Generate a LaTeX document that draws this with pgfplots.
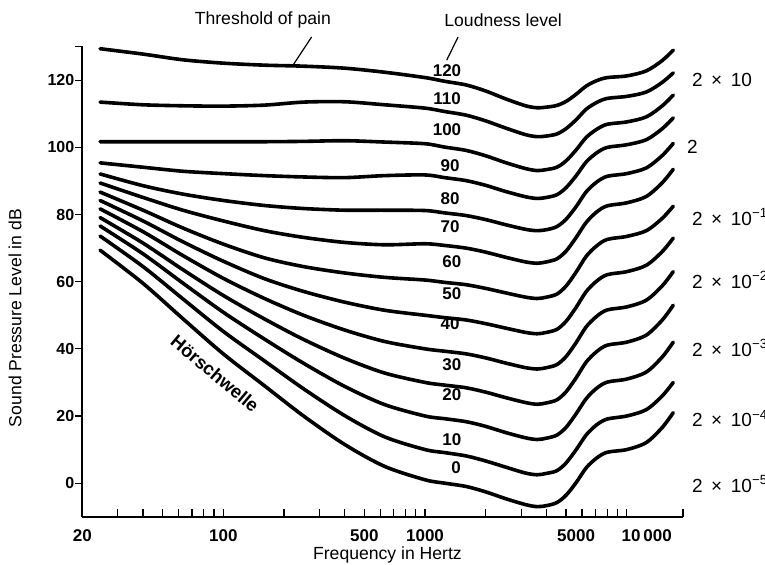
\documentclass[border=0pt]{standalone}
\usepackage{fontspec}
\setmainfont{Liberation Sans}
\usepackage{pgfplots}
\usepackage{pgfplotstable}
\pgfplotsset{compat=1.18}

% equal loudness contours, sound pressure level in dB per loudness level (phon)
\pgfplotstableread{
f      p120   p110   p100   p90    p80    p70    p60    p50    p40    p30    p20    p10    p0
24.5   129.4  113.5  101.7  95.4   92.1   89.4   86.7   84.2   81.7   79.1   76.6   73.6   69.4
40     127.8  112.7  101.7  94.1   88.6   85.1   81.3   78.1   74.9   71.5   68.3   64.5   59.5
63     126.1  112.4  101.7  92.9   86.1   81.3   76.0   71.9   67.8   63.6   59.6   54.9   49.0
100    125.1  112.3  101.7  92.2   84.2   78.1   71.2   66.1   61.0   55.9   50.9   45.2   38.5
160    124.5  112.6  101.7  91.6   82.7   75.2   67.1   60.9   55.0   48.9   42.9   36.4   29.0
250    124.2  113.5  101.8  91.2   81.8   73.2   64.5   57.1   50.0   42.8   35.7   28.1   20.0
400    123.6  113.6  102.0  91.0   81.3   71.7   62.6   53.9   45.6   37.2   28.8   20.1   11.5
630    122.4  112.7  101.6  91.6   81.3   71.0   61.3   51.5   42.2   32.8   23.4   13.8   5.0
1000   120.8  111.7  101.1  91.8   81.2   71.3   60.5   50.0   40.0   30.0   20.0   10.0   1.0
1250   119.7  110.7  100.1  91.0   80.5   70.8   59.8   49.3   39.3   29.2   19.2   9.1    0.0
1600   118.6  109.6  99.1   90.1   79.7   70.0   59.1   48.6   38.5   28.4   18.3   8.1    -1.0
2000   116.8  107.9  97.5   88.7   78.5   68.8   58.0   47.5   37.3   27.1   16.9   6.6    -2.6
2500   114.5  105.8  95.5   86.9   77.0   67.3   56.7   46.2   35.8   25.5   15.1   4.8    -4.6
3150   112.4  103.8  93.7   85.3   75.6   65.9   55.4   44.9   34.4   24.0   13.5   3.0    -6.4
3600   111.8  103.2  93.1   84.8   75.2   65.5   55.0   44.5   34.0   23.5   13.0   2.5    -7.0
4000   112.0  103.4  93.4   85.1   75.5   65.9   55.4   44.9   34.4   23.9   13.4   2.9    -6.7
4500   112.5  104.0  94.1   85.9   76.4   66.8   56.3   45.8   35.3   24.8   14.3   3.7    -5.8
5000   113.7  105.6  96.0   88.0   78.6   69.1   58.7   48.2   37.7   27.2   16.6   6.0    -3.6
5600   115.8  108.2  99.2   91.5   82.3   73.1   62.8   52.3   41.8   31.3   20.6   9.9    0.1
6300   118.3  111.4  103.0  95.7   86.8   77.7   67.6   57.1   46.6   36.1   25.2   14.4   4.6
7100   119.9  113.4  105.4  98.4   89.7   80.8   70.7   60.2   49.7   39.2   28.3   17.4   7.5
8000   120.8  114.6  106.9  100.0  91.4   82.6   72.6   62.1   51.6   41.1   30.1   19.1   9.2
10000  121.3  115.2  107.6  100.8  92.2   83.5   73.5   63.0   52.5   42.0   31.0   20.0   10.0
12500  122.8  116.5  109.1  102.3  93.9   85.4   75.2   64.9   54.5   44.1   33.1   21.9   12.1
15000  125.9  119.4  112.4  105.6  97.6   89.5   78.9   69.0   58.8   48.6   37.6   26.0   16.6
17000  129.0  122.2  115.6  108.8  101.2  93.5   82.5   73.0   63.0   53.0   42.0   30.0   21.0
}\contours

\tikzset{
  curve/.style={black, line width=1.8pt, line cap=round, smooth, no markers},
  lvl/.style={font=\fontsize{8.5}{10}\selectfont\bfseries, inner sep=0pt},
  rlab/.style={font=\fontsize{9.5}{11}\selectfont, inner sep=0pt, anchor=west},
  note/.style={font=\fontsize{8.8}{10}\selectfont, inner sep=0pt},
}
\newcommand{\pa}[1]{2\hspace{0.45em}×\hspace{0.45em}10\textsuperscript{#1}}

\begin{document}
\begin{tikzpicture}
\begin{axis}[
  scale only axis,
  width=300.35pt, height=235pt,
  xmode=log,
  xmin=20, xmax=19000,
  ymin=-10, ymax=130,
  clip=false,
  axis x line*=bottom,
  axis y line*=left,
  axis line style={-, line width=0.8pt},
  xtick={20,100,500,1000,5000,10000},
  xticklabels={20,100,500,1000,\hspace*{10pt}5000,\hspace*{20pt}10\,000},
  minor xtick={30,40,50,60,70,80,90,200,300,400,600,700,800,900,2000,3000,4000,6000,7000,8000,9000,19000},
  ytick={0,20,40,60,80,100,120,130},
  yticklabels={0,20,40,60,80,100,120,{}},
  tick align=inside,
  major tick length=4pt,
  minor tick length=4pt,
  tick style={black, line width=0.6pt},
  ytick style={xshift=-3.5pt},
  xticklabel style={font=\fontsize{8.5}{10}\selectfont\bfseries, yshift=-3pt},
  yticklabel style={font=\fontsize{8}{9.5}\selectfont\bfseries, xshift=-0.5pt},
  xlabel={Frequency in Hertz},
  ylabel={Sound Pressure Level in dB},
  every axis x label/.style={at={(rel axis cs:0.508,-0.0815)}, anchor=center, font=\fontsize{8.8}{10}\selectfont},
  every axis y label/.style={at={(rel axis cs:-0.112,0.4228)}, anchor=center, rotate=90, font=\fontsize{8.8}{10}\selectfont},
]
\addplot[curve] table[x=f, y=p120] {\contours};
\addplot[curve] table[x=f, y=p110] {\contours};
\addplot[curve] table[x=f, y=p100] {\contours};
\addplot[curve] table[x=f, y=p90] {\contours};
\addplot[curve] table[x=f, y=p80] {\contours};
\addplot[curve] table[x=f, y=p70] {\contours};
\addplot[curve] table[x=f, y=p60] {\contours};
\addplot[curve] table[x=f, y=p50] {\contours};
\addplot[curve] table[x=f, y=p40] {\contours};
\addplot[curve] table[x=f, y=p30] {\contours};
\addplot[curve] table[x=f, y=p20] {\contours};
\addplot[curve] table[x=f, y=p10] {\contours};
\addplot[curve] table[x=f, y=p0] {\contours};

% loudness level labels
\node[lvl] at (axis cs:1285,123.0) {120};
\node[lvl] at (axis cs:1285,114.6) {110};
\node[lvl] at (axis cs:1285,105.2) {100};
\node[lvl] at (axis cs:1330,94.7) {90};
\node[lvl] at (axis cs:1330,84.8) {80};
\node[lvl] at (axis cs:1330,76.4) {70};
\node[lvl] at (axis cs:1357,66.0) {60};
\node[lvl] at (axis cs:1357,56.5) {50};
\node[lvl] at (axis cs:1330,47.6) {40};
\node[lvl] at (axis cs:1357,35.2) {30};
\node[lvl] at (axis cs:1357,26.3) {20};
\node[lvl] at (axis cs:1357,12.9) {10};
\node[lvl] at (axis cs:1425,4.5) {0};

% sound pressure in Pa on the right
\node[rlab, xshift=4.35pt] at (axis cs:19000,120) {2\hspace{0.45em}×\hspace{0.45em}10};
\node[rlab, xshift=1.85pt] at (axis cs:19000,100.2) {2};
\node[rlab, xshift=4.35pt] at (axis cs:19000,79.3) {\pa{−1}};
\node[rlab, xshift=4.35pt] at (axis cs:19000,60.5) {\pa{−2}};
\node[rlab, xshift=4.35pt] at (axis cs:19000,40.2) {\pa{−3}};
\node[rlab, xshift=4.35pt] at (axis cs:19000,19.3) {\pa{−4}};
\node[rlab, xshift=4.35pt] at (axis cs:19000,-0.2) {\pa{−5}};

% annotations
\node[note] at (axis cs:157,137.9) {Threshold of pain};
\draw[line width=0.6pt] (axis cs:274,132.9) -- (axis cs:221.6,124.5);
\node[note] at (axis cs:2438,137.9) {Loudness level};
\draw[line width=0.6pt] (axis cs:1458,132.9) -- (axis cs:1281,126.0);
\node[lvl, font=\fontsize{9.2}{11}\selectfont\bfseries, rotate=-40] at (axis cs:91,32.6) {Hörschwelle};

\coordinate (bbSW) at (rel axis cs:-0.137,-0.1006);
\coordinate (bbNE) at (rel axis cs:1.1365,1.0994);
\end{axis}
\pgfresetboundingbox
\path (bbSW) rectangle (bbNE);
\end{tikzpicture}
\end{document}
